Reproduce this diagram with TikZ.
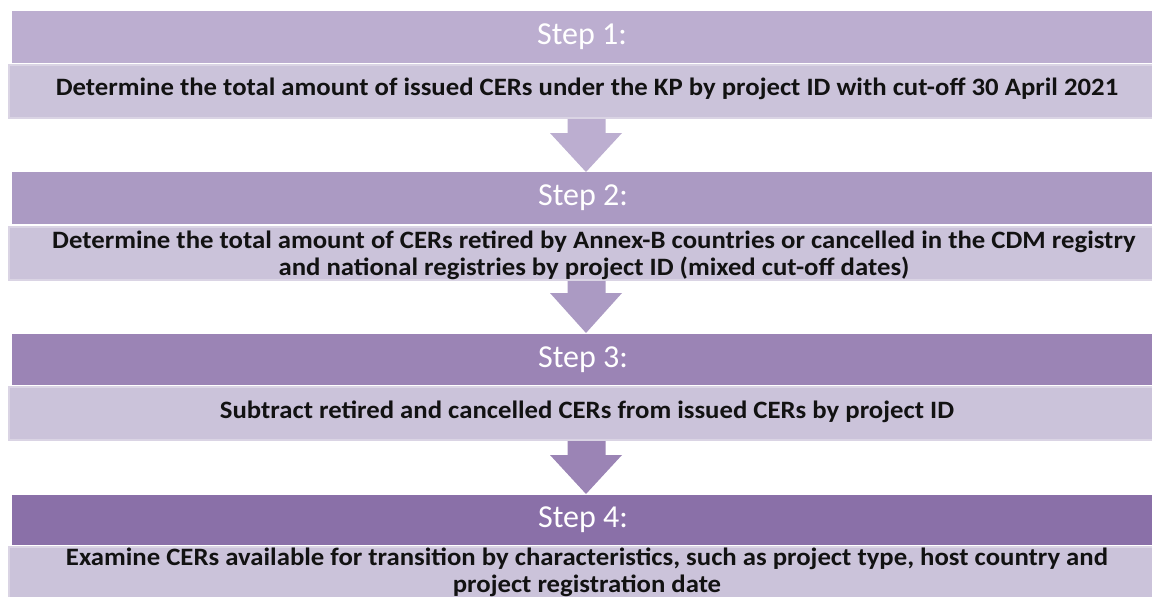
\documentclass[tikz,border=0pt]{standalone}
\usepackage{fontspec}
\setmainfont{Carlito}
\newfontfamily\detfont[FakeStretch=1.07]{Carlito}
\usetikzlibrary{calc}
\definecolor{hA}{HTML}{BCAED0}
\definecolor{hB}{HTML}{AB9AC3}
\definecolor{hC}{HTML}{9B84B5}
\definecolor{hD}{HTML}{8A70A8}
\definecolor{dfill}{HTML}{CBC3DA}
\definecolor{dline}{HTML}{DAD4E4}
\tikzset{
  header/.style={rectangle, anchor=north west, inner sep=0pt, minimum width=1140pt, minimum height=52pt},
  steptext/.style={text=white, font=\fontsize{32}{36}\selectfont, inner sep=0pt},
  detail/.style={rectangle, anchor=north west, inner sep=0pt, fill=dfill, draw=dline, line width=2pt, minimum width=1146pt, minimum height=53pt},
  dtext/.style={font=\detfont\bfseries\fontsize{25}{27}\selectfont, text=black!93, align=center, inner sep=0pt},
}
\begin{document}
\begin{tikzpicture}[x=1pt,y=-1pt]
\useasboundingbox (0,0) rectangle (1152,597);
% headers
\node[header, fill=hA] (h1) at (12,11) {};
\node[header, fill=hB] (h2) at (12,172) {};
\node[header, fill=hC, minimum height=51pt] (h3) at (12,334) {};
\node[header, fill=hD, minimum height=50pt] (h4) at (12,495) {};
% arrows
\foreach \n/\c/\top/\ht/\tip in {1/hA/113/133/172, 2/hB/278/293/333, 3/hC/435/455/494}{
  \fill[\c] (567.5,\top) -- (605.5,\top) -- (605.5,\ht) -- (622,\ht) -- (586,\tip) -- (550,\ht) -- (567.5,\ht) -- cycle;
}
% detail boxes
\node[detail] (d1) at (8,64) {};
\node[detail] (d2) at (8,226) {};
\node[detail] (d3) at (8,386) {};
\node[detail, minimum height=60pt] (d4) at (8,546) {};
% step labels
\node[steptext] (s1) at (582,37) {Step 1:};
\node[steptext] (s2) at (583,198) {Step 2:};
\node[steptext] (s3) at (583,360) {Step 3:};
\node[steptext] (s4) at (583,520) {Step 4:};
% detail texts
\node[dtext] (t1) at (587,89) {Determine the total amount of issued CERs under the KP by project ID with cut-off 30 April 2021};
\node[dtext] (t2) at (594,255) {Determine the total amount of CERs retired by Annex-B countries or cancelled in the CDM registry\\and national registries by project ID (mixed cut-off dates)};
\node[dtext] (t3) at (587,412) {Subtract retired and cancelled CERs from issued CERs by project ID};
\node[dtext] (t4) at (587,572) {Examine CERs available for transition by characteristics, such as project type, host country and\\project registration date};
\end{tikzpicture}
\end{document}
